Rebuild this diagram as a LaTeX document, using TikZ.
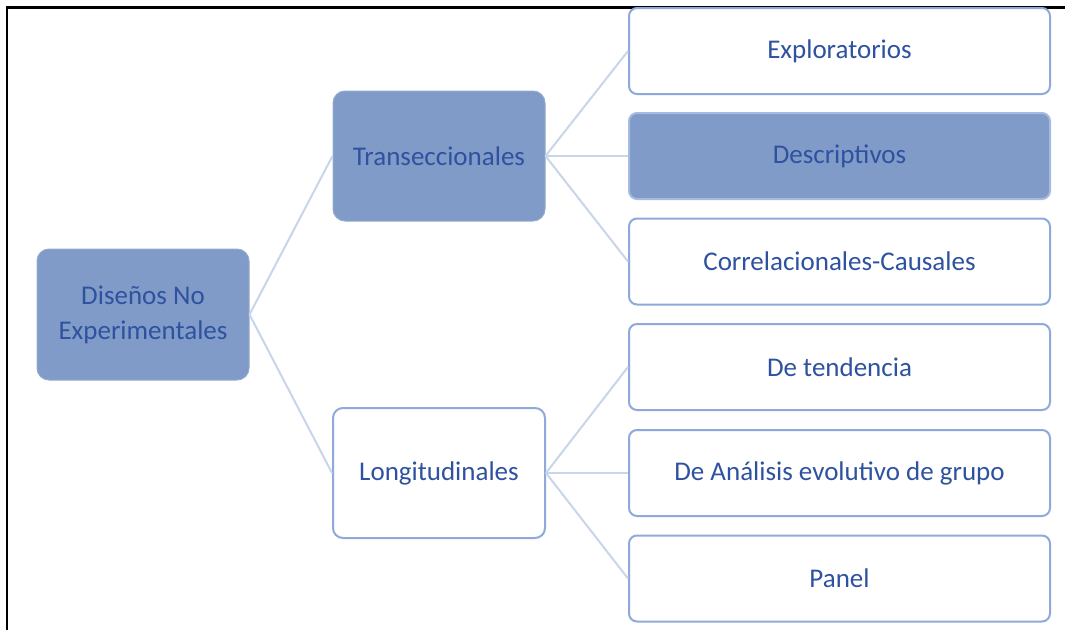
\documentclass[tikz,border=0pt]{standalone}
\usepackage{fontspec}
\setmainfont{Carlito}
\definecolor{txtblue}{RGB}{46,82,160}
\definecolor{boxfill}{RGB}{128,155,200}
\definecolor{boxline}{RGB}{143,170,218}
\definecolor{conn}{RGB}{200,213,234}
\begin{document}
\begin{tikzpicture}[x=1pt,y=-1pt,
  lbl/.style={font=\fontsize{27}{35}\selectfont, text=txtblue, align=center, inner sep=0pt},
  darkbox/.style={lbl, fill=boxfill, draw=boxfill!85!white, line width=1pt, rounded corners=12pt},
  leafbox/.style={lbl, fill=white, draw=boxline, line width=2pt, rounded corners=8pt, minimum width=421pt, minimum height=86pt},
  darkleaf/.style={lbl, fill=boxfill, draw=boxline!80!white, line width=2pt, rounded corners=8pt, minimum width=421pt, minimum height=86pt},
  connector/.style={draw=conn, line width=2pt}]
\useasboundingbox (0,0) rectangle (1065,630);
\fill[white] (0,0) rectangle (1065,630);
\draw[black, line width=2.2pt] (7,630) -- (7,7.5) -- (1065,7.5);
% nodes
\node[darkbox, minimum width=212pt, minimum height=131pt] (root) at (143,314.5) {Diseños No\\Experimentales};
\node[darkbox, minimum width=212pt, minimum height=130pt] (trans) at (439,156) {Transeccionales};
\node[lbl, fill=white, draw=boxline, line width=2pt, rounded corners=10pt, minimum width=212pt, minimum height=130pt] (long) at (439,473) {Longitudinales};
\node[leafbox] (expl) at (839.5,51) {Exploratorios};
\node[darkleaf] (desc) at (839.5,156) {Descriptivos};
\node[leafbox] (corr) at (839.5,261.5) {Correlacionales-Causales};
\node[leafbox] (tend) at (839.5,367) {De tendencia};
\node[leafbox] (anal) at (839.5,473) {De Análisis evolutivo de grupo};
\node[leafbox] (panel) at (839.5,578.5) {Panel};
% connectors
\draw[connector] (root.east) -- (trans.west);
\draw[connector] (root.east) -- (long.west);
\draw[connector] (trans.east) -- (expl.west);
\draw[connector] (trans.east) -- (desc.west);
\draw[connector] (trans.east) -- (corr.west);
\draw[connector] (long.east) -- (tend.west);
\draw[connector] (long.east) -- (anal.west);
\draw[connector] (long.east) -- (panel.west);
\end{tikzpicture}
\end{document}
